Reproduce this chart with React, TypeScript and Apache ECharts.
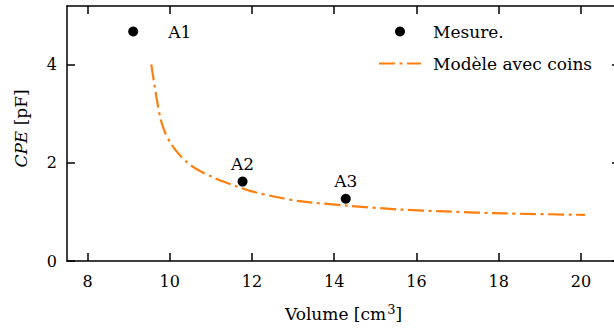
import React, { useEffect, useRef } from "react";
import * as echarts from "echarts";

const xTicks = [8, 10, 12, 14, 16, 18, 20];
const yTicks = [0, 2, 4];
const measureNames = ["A1", "A2", "A3"];
const measureVolume = [9.11, 11.77, 14.28];
const measureCPE = [4.68, 1.62, 1.27];
const modelVolume = [9.55, 9.63, 9.71, 9.78, 9.88, 10.0, 10.17, 10.41, 10.7, 11.02, 11.3, 11.63, 11.95, 12.5, 13.16, 14.3, 15.59, 16.72, 18.18, 20.1];
const modelCPE = [4.01, 3.57, 3.17, 2.88, 2.63, 2.43, 2.23, 2.02, 1.85, 1.72, 1.62, 1.52, 1.43, 1.32, 1.22, 1.13, 1.05, 1.01, 0.97, 0.94];

const FONT = "DejaVu Serif";
const X_MIN = 7.5;
const X_MAX = 20.95;
const Y_MIN = 0;
const Y_MAX = 5.2;

export default function App() {
  const ref = useRef<HTMLDivElement>(null);
  useEffect(() => {
    if (!ref.current) return;
    const chart = echarts.init(ref.current, undefined, { renderer: "svg" });
    const axisLine = { show: true, onZero: false, lineStyle: { color: "#000", width: 1.5 } };
    const tick = (vals: number[]) => ({
      show: true,
      inside: true,
      length: 8,
      customValues: vals,
      lineStyle: { color: "#000", width: 1.5 },
    });
    const labelStyle = { color: "#000", fontFamily: FONT, fontSize: 16 };
    const textStyle = { color: "#000", fontFamily: FONT, fontSize: 17 };
    chart.setOption({
      animation: false,
      grid: { left: 67, top: 6, right: 0, bottom: 68, containLabel: false },
      xAxis: [
        {
          type: "value",
          min: X_MIN,
          max: X_MAX,
          position: "bottom",
          axisLine,
          axisTick: tick(xTicks),
          axisLabel: { ...labelStyle, margin: 12, customValues: xTicks },
          splitLine: { show: false },
          name: "Volume [cm{sup|3}]",
          nameLocation: "middle",
          nameGap: 42,
          nameTextStyle: {
            ...textStyle,
            rich: { sup: { ...textStyle, fontSize: 13, padding: [0, 0, 8, 1] } },
          },
        },
        {
          type: "value",
          min: X_MIN,
          max: X_MAX,
          position: "top",
          axisLine,
          axisTick: tick(xTicks),
          axisLabel: { show: false },
          splitLine: { show: false },
        },
      ],
      yAxis: [
        {
          type: "value",
          min: Y_MIN,
          max: Y_MAX,
          position: "left",
          axisLine,
          axisTick: tick(yTicks),
          axisLabel: { ...labelStyle, margin: 10, customValues: yTicks },
          splitLine: { show: false },
          name: "{i|CPE} [pF]",
          nameLocation: "middle",
          nameGap: 38,
          nameRotate: 90,
          nameTextStyle: {
            ...textStyle,
            padding: [0, 0, 0, 10],
            rich: { i: { ...textStyle, fontStyle: "italic" } },
          },
        },
        {
          type: "value",
          min: Y_MIN,
          max: Y_MAX,
          position: "right",
          axisLine,
          axisTick: tick(yTicks),
          axisLabel: { show: false },
          splitLine: { show: false },
        },
      ],
      legend: {
        orient: "vertical",
        left: 373,
        top: 18,
        itemWidth: 42,
        itemHeight: 10,
        itemGap: 15,
        textStyle: { ...textStyle, padding: [0, 0, 0, 7] },
        data: [
          { name: "Mesure." },
          { name: "Modèle avec coins", itemStyle: { color: "rgba(0,0,0,0)", borderWidth: 0, opacity: 0 } },
        ],
      },
      series: [
        {
          name: "Modèle avec coins",
          type: "line",
          xAxisIndex: 0,
          yAxisIndex: 0,
          data: modelVolume.map((v, i) => [v, modelCPE[i]]),
          showSymbol: false,
          symbol: "none",
          smooth: 0.3,
          lineStyle: { color: "#ff7f0e", width: 2.2, type: [16, 4.5, 3, 4.5], cap: "butt" },
          itemStyle: { color: "#ff7f0e" },
          z: 2,
        },
        {
          name: "Mesure.",
          type: "scatter",
          xAxisIndex: 0,
          yAxisIndex: 0,
          symbol: "circle",
          symbolSize: 10,
          itemStyle: { color: "#000", opacity: 1 },
          data: measureVolume.map((v, i) => ({
            value: [v, measureCPE[i]],
            name: measureNames[i],
            label: i === 0 ? { position: "right", distance: 30 } : { position: "top", distance: 4 },
          })),
          label: {
            show: true,
            formatter: (p: any) => p.name,
            ...textStyle,
          },
          z: 3,
        },
      ],
    });
    return () => chart.dispose();
  }, []);
  return (
    <div
      ref={ref}
      style={{ position: "fixed", left: 0, top: 0, width: 620, height: 329, background: "#fff" }}
    />
  );
}
